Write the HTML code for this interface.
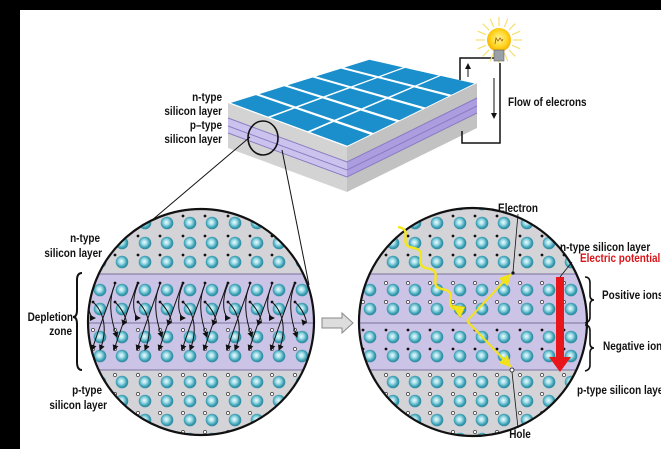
<!DOCTYPE html>
<html><head><meta charset="utf-8"><style>
html,body{margin:0;padding:0;background:#000;}
svg{display:block;}
text{font-family:"Liberation Sans Narrow","Liberation Sans",sans-serif;font-weight:bold;font-size:12px;fill:#111;}
</style></head><body>
<svg id="s" width="661" height="449" viewBox="0 0 661 449" xmlns="http://www.w3.org/2000/svg">
<defs>
<radialGradient id="atomG" cx="0.45" cy="0.45" r="0.6">
<stop offset="0" stop-color="#eefcff"/><stop offset="0.35" stop-color="#9fdbe6"/><stop offset="0.7" stop-color="#3a9fb3"/><stop offset="1" stop-color="#2a7f95"/></radialGradient>
<radialGradient id="bulbG" cx="0.5" cy="0.45" r="0.6"><stop offset="0" stop-color="#fff6a0"/><stop offset="0.6" stop-color="#ffd21a"/><stop offset="1" stop-color="#f0a400"/></radialGradient>
<clipPath id="cl"><circle cx="201" cy="322" r="113"/></clipPath>
<clipPath id="cr"><circle cx="473" cy="322" r="114"/></clipPath>
<marker id="ah" markerWidth="6" markerHeight="6" refX="5" refY="3" orient="auto"><path d="M0,0 L6,3 L0,6 z" fill="#111"/></marker>
<marker id="ay" markerWidth="6" markerHeight="6" refX="5" refY="3" orient="auto"><path d="M0,0 L6,3 L0,6 z" fill="#f2e21c"/></marker>
</defs>
<rect x="20" y="10" width="641" height="439" fill="#fff"/>

<g>
<polygon points="228,103 347,147 347,192 228,148" fill="#d3d3d3"/>
<polygon points="347,147 477,83 477,128 347,192" fill="#c2c2c2"/>
<polygon points="228,118 347,162 347,177 228,133" fill="#cbc3ee"/>
<polygon points="347,162 477,98 477,113 347,177" fill="#ab9ddf"/>
<path d="M228,118 L347,162 L477,98 M228,126 L347,170 L477,106 M228,133 L347,177 L477,113" stroke="#8a7cc0" stroke-width="1" fill="none"/>
<polygon points="228,103 370,59 477,83 347,147" fill="#fff"/>
<g id="cells"></g>
</g>
<ellipse cx="263" cy="138" rx="15" ry="17" fill="none" stroke="#111" stroke-width="1.6"/>
<line x1="250" y1="137" x2="138" y2="232" stroke="#111" stroke-width="1"/>
<line x1="282" y1="150" x2="309" y2="285" stroke="#111" stroke-width="1"/>

<g fill="none" stroke="#111" stroke-width="1.5">
<path d="M460,80 L460,58 L495,58"/>
<path d="M500,63 L500,143 L462,143 L462,131"/>
<path d="M468,77 L468,64" marker-end="url(#ah)" stroke-width="1"/>
<path d="M494,78 L494,118" marker-end="url(#ah)" stroke-width="1"/>
</g>
<g>
<g id="rays" stroke="#f5e070" stroke-width="1.2"></g>
<circle cx="499" cy="40" r="12" fill="url(#bulbG)"/>
<path d="M495,44 l1,-6 l2,3 l2,-3 l2,3 l1,-2" stroke="#a06000" fill="none" stroke-width="0.8"/>
<rect x="494" y="50" width="10" height="11" fill="#9aa0a8" stroke="#666" stroke-width="0.6"/>
</g>
<text x="508" y="106">Flow of elecrons</text>

<g text-anchor="end">
<text x="222" y="101">n-type</text><text x="222" y="115">silicon layer</text>
<text x="222" y="129">p–type</text><text x="222" y="143">silicon layer</text>
</g>

<g clip-path="url(#cl)">
<rect x="80" y="200" width="250" height="250" fill="#d4d4d8"/>
<rect x="80" y="274" width="250" height="96" fill="#cbc4e6"/>
<path d="M80,274 H330 M80,323 H330 M80,370 H330" stroke="#7b6f9f" stroke-width="1"/>
<g id="atomsL"></g><g id="arrowsL"></g>
</g>
<circle cx="201" cy="322" r="113" fill="none" stroke="#111" stroke-width="2.2"/>

<g clip-path="url(#cr)">
<rect x="355" y="200" width="240" height="250" fill="#d4d4d8"/>
<rect x="355" y="274" width="240" height="96" fill="#cbc4e6"/>
<path d="M355,274 H595 M355,323 H595 M355,370 H595" stroke="#7b6f9f" stroke-width="1"/>
<g id="atomsR"></g>
</g>
<circle cx="473" cy="322" r="114" fill="none" stroke="#111" stroke-width="2.2"/>

<path id="wave" fill="none" stroke="#f5e51c" stroke-width="2.4"/>
<polygon points="460,318 452,305 465,307" fill="#f5e51c" stroke="#c9b800" stroke-width="0.5"/>
<line x1="467" y1="321" x2="510" y2="275" stroke="#f2e21c" stroke-width="2" marker-end="url(#ay)"/>
<line x1="467" y1="321" x2="510" y2="366" stroke="#f2e21c" stroke-width="2" marker-end="url(#ay)"/>
<circle cx="513" cy="273" r="1.6" fill="#111"/><circle cx="512" cy="370" r="2" fill="#fff" stroke="#111" stroke-width="0.8"/>
<line x1="513" y1="272" x2="518" y2="214" stroke="#111" stroke-width="0.8"/>
<line x1="512" y1="372" x2="518" y2="428" stroke="#111" stroke-width="0.8"/>

<g>
<rect x="556" y="277" width="8" height="82" fill="#e8161b"/>
<polygon points="549,357 571,357 560,372" fill="#e8161b"/>
<line x1="560" y1="277" x2="572" y2="262" stroke="#111" stroke-width="0.8"/>
</g>
<path d="M585,277 q5,0 5,6 v12 q0,5 4,5 q-4,0 -4,5 v12 q0,5 -5,6" fill="none" stroke="#111" stroke-width="1.6"/>
<path d="M585,325 q5,0 5,6 v12 q0,5 4,5 q-4,0 -4,5 v12 q0,5 -5,6" fill="none" stroke="#111" stroke-width="1.6"/>
<path d="M82,273 q-5,0 -5,7 v30 q0,7 -4,7 q4,0 4,7 v38 q0,8 5,8" fill="none" stroke="#111" stroke-width="2"/>

<polygon points="322,318 342,318 342,313 353,323 342,333 342,328 322,328" fill="#ddd" stroke="#888" stroke-width="1"/>

<g>
<text x="100" y="242" text-anchor="end">n-type</text>
<text x="102" y="257" text-anchor="end">silicon layer</text>
<text x="73" y="321" text-anchor="end">Depletion</text>
<text x="72" y="335" text-anchor="end">zone</text>
<text x="102" y="394" text-anchor="end">p-type</text>
<text x="107" y="409" text-anchor="end">silicon layer</text>
<text x="518" y="212" text-anchor="middle">Electron</text>
<text x="560" y="251">n-type silicon layer</text>
<text x="580" y="262" style="fill:#d8151a">Electric potential</text>
<text x="602" y="299">Positive ions</text>
<text x="603" y="350">Negative ions</text>
<text x="577" y="394">p-type silicon layer</text>
<text x="520" y="438" text-anchor="middle">Hole</text>
</g>
</svg>
<script>
const NS='http://www.w3.org/2000/svg';
function mk(t,a,p){const e=document.createElementNS(NS,t);for(const k in a)e.setAttribute(k,a[k]);p.appendChild(e);return e;}
const cells=document.getElementById('cells');
const L=[228,103],B=[370,59],R=[477,83],F=[347,147];
function pt(u,v){const a=[L[0]+(F[0]-L[0])*u,L[1]+(F[1]-L[1])*u],b=[B[0]+(R[0]-B[0])*u,B[1]+(R[1]-B[1])*u];return [a[0]+(b[0]-a[0])*v,a[1]+(b[1]-a[1])*v];}
const g=0.01;
for(let i=0;i<3;i++)for(let j=0;j<5;j++){const u0=i/3+g,u1=(i+1)/3-g,v0=j/5+g*1.2,v1=(j+1)/5-g*1.2;
const pts=[pt(u0,v0),pt(u1,v0),pt(u1,v1),pt(u0,v1)].map(p=>p.join(',')).join(' ');
const c=mk('polygon',{points:pts,fill:'#1a8fcb'},cells);

}
const rays=document.getElementById('rays');
for(let k=0;k<16;k++){const a=k/16*Math.PI*2;mk('line',{x1:499+Math.cos(a)*14,y1:40+Math.sin(a)*14,x2:499+Math.cos(a)*23,y2:40+Math.sin(a)*23},rays);}
const rowsY=[204,223,243,262,290,309,337,356,382,401,420,439];
function atoms(id,cols,dotMode){const gg=document.getElementById(id);
rowsY.forEach((y)=>{cols.forEach(x=>{
const zone=y<274?'n':y<323?'u':y<370?'l':'p';
let filled=dotMode[zone];
mk('circle',{cx:x-7,cy:y-7,r:filled?1.4:1.6,fill:filled?'#111':'#fff',stroke:'#111','stroke-width':filled?0:0.6},gg);
const a=mk('circle',{cx:x,cy:y,r:6.3,fill:'url(#atomG)'},gg);

});});}
const colsL=[100,122,145,167,190,212,235,257,279,302];
const colsR=[370,393,415,437,460,482,504,527,549,571];
atoms('atomsL',colsL,{n:true,u:true,l:false,p:false});
atoms('atomsR',colsR,{n:true,u:false,l:true,p:false});
const ar=document.getElementById('arrowsL');
colsL.forEach((x,i)=>{
mk('path',{d:`M${x-7},284 C${x-14},300 ${x-12},318 ${x-5},${i%2?337:318}`,fill:'none',stroke:'#111','stroke-width':1,'marker-end':'url(#ah)'},ar);
mk('path',{d:`M${x-7},302 C${x+4},312 ${x+8},330 ${x},${i%2?320:350}`,fill:'none',stroke:'#111','stroke-width':1,'marker-end':'url(#ah)'},ar);
if(i<9)mk('path',{d:`M${x+15},284 C${x+8},305 ${x},325 ${x-8},350`,fill:'none',stroke:'#111','stroke-width':1,'marker-end':'url(#ah)'},ar);
});
let d='M398,227';const x0=398,y0=227,x1=458,y1=310;
for(let t=1;t<=60;t++){const s=t/60;const bx=x0+(x1-x0)*s,by=y0+(y1-y0)*s;const w=Math.sin(s*Math.PI*8)*3.5;d+=` L${(bx+w*0.81).toFixed(1)},${(by-w*0.59).toFixed(1)}`;}
document.getElementById('wave').setAttribute('d',d);
// condense text to match narrow font
document.querySelectorAll('text').forEach(t=>{const w=t.getComputedTextLength();t.setAttribute('textLength',(w*0.83).toFixed(1));t.setAttribute('lengthAdjust','spacingAndGlyphs');});
</script>
</body></html>
